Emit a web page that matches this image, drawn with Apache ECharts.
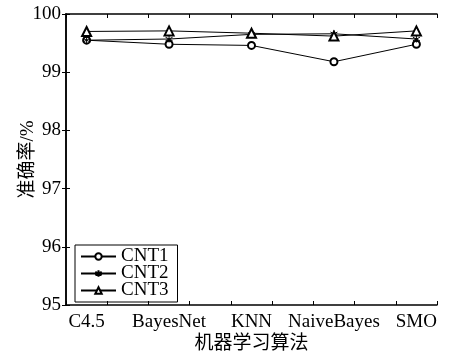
<!DOCTYPE html>
<html>
<head>
<meta charset="utf-8">
<script src="https://cdn.jsdelivr.net/npm/echarts@6/dist/echarts.min.js"></script>
<style>html,body{margin:0;padding:0;background:#fff;}#c{width:472px;height:357px;}</style>
</head>
<body>
<div id="c"></div>
<script>
var categories = ['C4.5', 'BayesNet', 'KNN', 'NaiveBayes', 'SMO'];
var cnt1 = [99.55, 99.48, 99.46, 99.18, 99.48];
var cnt2 = [99.55, 99.57, 99.65, 99.66, 99.57];
var cnt3 = [99.70, 99.71, 99.67, 99.62, 99.71];
var seriesNames = ['CNT1', 'CNT2', 'CNT3'];
var yTicks = [95, 96, 97, 98, 99, 100];

// category i sits at x = 4*i + 1 on a 0..18 value axis (ticks every 2 between categories)
function pos(i) { return 4 * i + 1; }
function pts(arr) { return arr.map(function (v, i) { return [pos(i), v]; }); }

var serif = 'Liberation Serif, Noto Sans CJK SC, serif';
var star = 'path://M5,0L5,10M0.67,2.5L9.33,7.5M0.67,7.5L9.33,2.5';

function frame(extra) {
  return Object.assign({
    axisLine: { show: true, lineStyle: { color: '#000', width: 1.5 } },
    axisTick: { show: true, inside: true, length: 4, lineStyle: { color: '#000', width: 1 } },
    splitLine: { show: false }
  }, extra);
}

var chart = echarts.init(document.getElementById('c'), null, { renderer: 'canvas' });
chart.setOption({
  animation: false,
  backgroundColor: '#fff',
  grid: { left: 66, right: 35, top: 14, bottom: 52, containLabel: false, outerBoundsMode: 'none' },
  xAxis: [
    frame({ type: 'value', position: 'bottom', min: 0, max: 18, interval: 2, axisLabel: { show: false } }),
    frame({ type: 'value', position: 'top', min: 0, max: 18, interval: 2, axisLabel: { show: false } }),
    {
      type: 'value', position: 'bottom', min: 0, max: 18, interval: 1,
      axisLine: { show: false }, axisTick: { show: false }, splitLine: { show: false },
      axisLabel: {
        margin: 8, color: '#000', fontFamily: serif, fontSize: 19, hideOverlap: false,
        formatter: function (v) {
          var k = (v - 1) / 4;
          return (Number.isInteger(k) && categories[k]) ? categories[k] : '';
        }
      },
      name: '机器学习算法', nameLocation: 'middle', nameGap: 30, nameMoveOverlap: false,
      nameTextStyle: { color: '#000', fontFamily: serif, fontSize: 19 }
    }
  ],
  yAxis: [
    frame({
      type: 'value', position: 'left', min: yTicks[0], max: yTicks[yTicks.length - 1], interval: 1,
      axisLabel: { margin: 5, color: '#000', fontFamily: serif, fontSize: 19 },
      name: '准确率/%', nameLocation: 'middle', nameRotate: 90, nameGap: 28, nameMoveOverlap: false,
      nameTextStyle: { color: '#000', fontFamily: serif, fontSize: 19 }
    }),
    frame({
      type: 'value', position: 'right', min: yTicks[0], max: yTicks[yTicks.length - 1], interval: 1,
      axisLabel: { show: false }
    })
  ],
  legend: {
    left: 75, top: 245, orient: 'vertical',
    padding: [2, 9, 2, 5],
    borderColor: '#000', borderWidth: 1, borderRadius: 0,
    itemWidth: 35, itemHeight: 8, itemGap: -2, itemTextGap: 6,
    textStyle: { color: '#000', fontFamily: serif, fontSize: 19 },
    data: seriesNames
  },
  series: [
    {
      name: seriesNames[0], type: 'line', xAxisIndex: 0, yAxisIndex: 0, data: pts(cnt1),
      symbol: 'emptyCircle', symbolSize: 7,
      lineStyle: { color: '#000', width: 1 },
      itemStyle: { color: '#000', borderColor: '#000', borderWidth: 1 }
    },
    {
      name: seriesNames[1], type: 'line', xAxisIndex: 0, yAxisIndex: 0, data: pts(cnt2),
      symbol: star, symbolSize: 7,
      lineStyle: { color: '#000', width: 1 },
      itemStyle: { color: '#000', borderColor: '#000', borderWidth: 1 }
    },
    {
      name: seriesNames[2], type: 'line', xAxisIndex: 0, yAxisIndex: 0, data: pts(cnt3),
      symbol: 'emptyTriangle', symbolSize: 9,
      lineStyle: { color: '#000', width: 1 },
      itemStyle: { color: '#000', borderColor: '#000', borderWidth: 1 }
    }
  ]
});
</script>
</body>
</html>
